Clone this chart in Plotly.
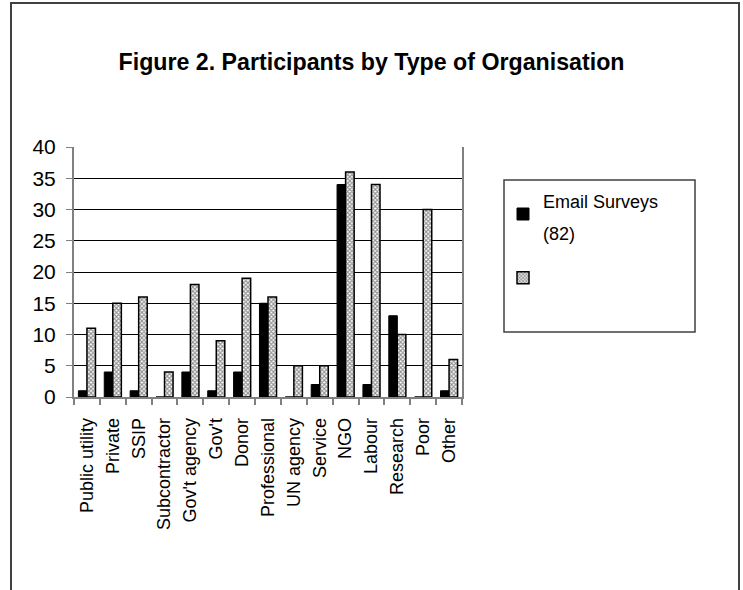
import plotly.graph_objects as go

categories = ["Public utility", "Private", "SSIP", "Subcontractor", "Gov't agency",
              "Gov't", "Donor", "Professional", "UN agency", "Service", "NGO",
              "Labour", "Research", "Poor", "Other"]
email_surveys = [1, 4, 1, 0, 4, 1, 4, 15, 0, 2, 34, 2, 13, 0, 1]
second_series = [11, 15, 16, 4, 18, 9, 19, 16, 5, 5, 36, 34, 10, 30, 6]
y_ticks = [0, 5, 10, 15, 20, 25, 30, 35, 40]

W, H = 743, 590
L, R, T, B = 74, 462, 147, 397

def px(x):
    return (x - L) / (R - L)

def py(y):
    return (B - y) / (B - T)

FONT = "Arial, Liberation Sans, sans-serif"
LEG = '<span style="font-size:18px">%s</span>'

fig = go.Figure()
fig.add_trace(go.Bar(
    x=categories, y=email_surveys,
    name=(LEG % "Email Surveys") + "<br>" + (LEG % "(82)"),
    marker=dict(color="black", line=dict(color="black", width=1)),
    legendgroup="a",
))
fig.add_trace(go.Bar(
    x=categories, y=second_series, name=" ",
    marker=dict(color="white", line=dict(color="black", width=1.5),
                pattern=dict(shape="x", size=3, solidity=0.6,
                             fgcolor="#222222", bgcolor="white")),
    legendgroup="b",
))

fig.update_layout(
    width=W, height=H,
    margin=dict(l=L, r=W - R, t=T, b=H - B),
    paper_bgcolor="white", plot_bgcolor="white",
    font=dict(family=FONT, size=18, color="black"),
    barmode="group", bargap=0.34, bargroupgap=0,
    title=dict(text="<b>Figure 2. Participants by Type of Organisation</b>",
               x=0.5, xref="container", xanchor="center",
               y=1 - 62 / H, yref="container", yanchor="middle",
               font=dict(family=FONT, size=23.2, color="black")),
    showlegend=True,
    legend=dict(x=px(503), y=py(175), xanchor="left", yanchor="top",
                font=dict(family=FONT, size=25, color="black"),
                bgcolor="rgba(0,0,0,0)", borderwidth=0,
                tracegroupgap=12, traceorder="grouped"),
    xaxis=dict(type="category", tickangle=-90, showgrid=False,
               showline=True, linecolor="#808080", linewidth=1.5,
               ticks="outside", tickson="boundaries", ticklen=6,
               tickcolor="#808080", tickwidth=1.5, ticklabelstandoff=12,
               tickfont=dict(family=FONT, size=18, color="black")),
    yaxis=dict(range=[0, 40], tickvals=y_ticks, showgrid=True,
               gridcolor="black", gridwidth=1,
               zeroline=True, zerolinecolor="black", zerolinewidth=1,
               showline=True, linecolor="#808080", linewidth=2, mirror=True,
               ticks="outside", ticklen=6, tickcolor="#808080", tickwidth=1,
               ticklabelstandoff=6,
               tickfont=dict(family=FONT, size=21, color="black")),
    shapes=[
        dict(type="rect", xref="paper", yref="paper",
             x0=px(11), x1=px(739), y0=py(640), y1=py(3),
             line=dict(color="#404040", width=2), fillcolor="rgba(0,0,0,0)",
             layer="above"),
        dict(type="rect", xref="paper", yref="paper",
             x0=px(504), x1=px(695), y0=py(332), y1=py(180),
             line=dict(color="#404040", width=1.5), fillcolor="rgba(0,0,0,0)",
             layer="above"),
    ],
)

fig.write_html("out.html")
